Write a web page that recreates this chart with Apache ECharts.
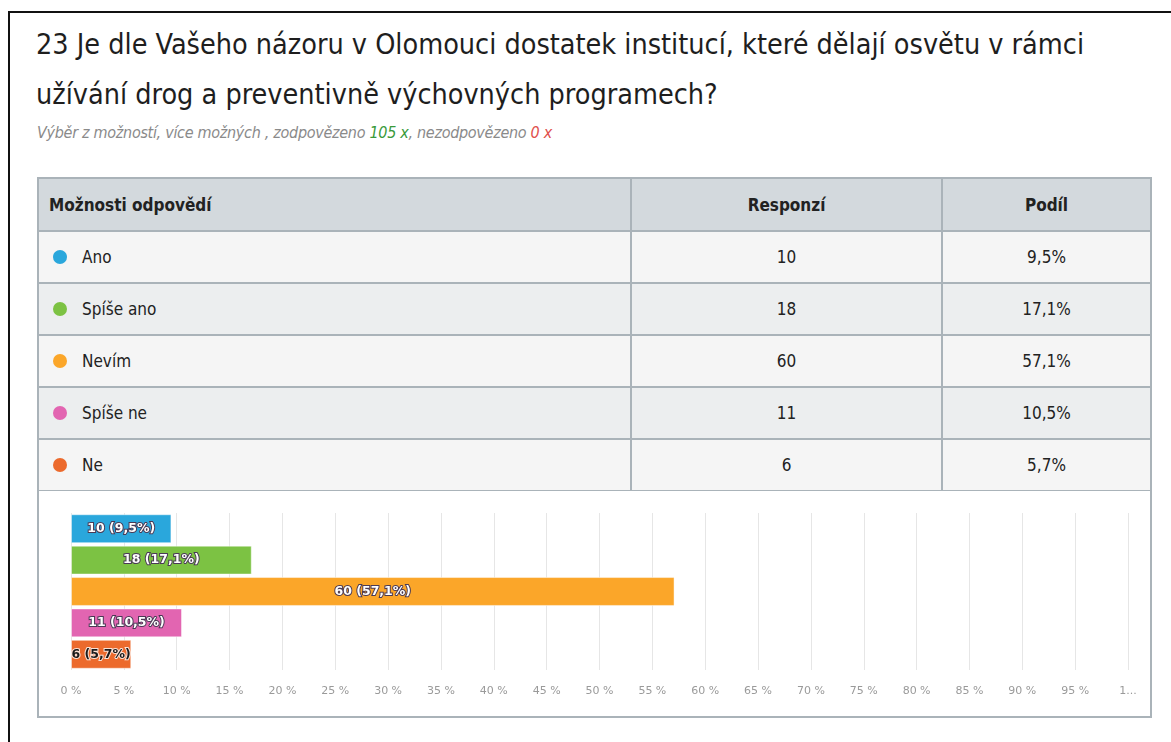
<!DOCTYPE html>
<html>
<head>
<meta charset="utf-8">
<script src="https://cdn.jsdelivr.net/npm/echarts@6/dist/echarts.min.js"></script>
<style>
  body { margin: 0; width: 1171px; height: 742px; background: #fff; position: relative; overflow: hidden;
         font-family: "Liberation Sans Narrow", "DejaVu Sans Condensed", "Noto Sans", sans-serif; color: #222; }
  .frame-left { position: absolute; left: 8px; top: 11px; width: 2px; height: 731px; background: #111; }
  .frame-top { position: absolute; left: 8px; top: 11px; width: 1163px; height: 2px; background: #111; }
  .title { position: absolute; left: 36px; top: 20px; font-size: 28.5px; line-height: 50px; white-space: nowrap; color: #1e1e1e; }
  .sub { position: absolute; left: 37px; top: 123px; font-size: 16px; font-style: italic; color: #8a8a8a; white-space: nowrap; letter-spacing: -0.3px; }
  .sub .ok { color: #3a9a3a; }
  .sub .no { color: #e0504c; }
  table { position: absolute; left: 37px; top: 177px; width: 1115px; border-collapse: collapse; font-size: 17px; }
  th, td { border: 2px solid #aab3b9; height: 50px; padding: 0; }
  th { background: #d3d9dd; font-weight: bold; height: 51px; }
  th.opt { text-align: left; padding-left: 10px; }
  td.opt { padding-left: 14px; }
  td.num { text-align: center; }
  tr.odd td { background: #f5f5f5; }
  tr.even td { background: #eceeef; }
  .dot { display: inline-block; width: 14px; height: 14px; border-radius: 50%; vertical-align: -1px; margin-right: 15px; }
  #chart { position: absolute; left: 37px; top: 491px; width: 1111px; height: 225px; border: 2px solid #aab3b9; border-top: none; background: #fff; }
</style>
</head>
<body>
<div class="frame-left"></div>
<div class="frame-top"></div>
<div class="title">23 Je dle Vašeho názoru v Olomouci dostatek institucí, které dělají osvětu v rámci<br>užívání drog a preventivně výchovných programech?</div>
<div class="sub">Výběr z možností, více možných , zodpovězeno <span class="ok">105 x</span>, nezodpovězeno <span class="no">0 x</span></div>
<table id="tbl"></table>
<div id="chart"></div>
<script>
// data
const answers = ['Ano', 'Spíše ano', 'Nevím', 'Spíše ne', 'Ne'];
const responses = [10, 18, 60, 11, 6];
const shares = [9.5, 17.1, 57.1, 10.5, 5.7];
const palette = ['#2aa7dc', '#7cc243', '#fba629', '#e265b1', '#ec6a2c'];

const fmtShare = v => v.toFixed(1).replace('.', ',') + '%';

// table
let html = '<tr><th class="opt">Možnosti odpovědí</th><th style="width:309px">Responzí</th><th style="width:207px">Podíl</th></tr>';
answers.forEach((a, i) => {
  html += '<tr class="' + (i % 2 ? 'even' : 'odd') + '">' +
    '<td class="opt"><span class="dot" style="background:' + palette[i] + '"></span>' + a + '</td>' +
    '<td class="num">' + responses[i] + '</td>' +
    '<td class="num">' + fmtShare(shares[i]) + '</td></tr>';
});
document.getElementById('tbl').innerHTML = html;

// bar chart
const chart = echarts.init(document.getElementById('chart'));
chart.setOption({
  animation: false,
  grid: { left: 32, right: 22, top: 22, bottom: 46 },
  xAxis: {
    type: 'value',
    min: 0,
    max: 100,
    interval: 5,
    axisLine: { show: false },
    axisTick: { show: false },
    splitLine: { lineStyle: { color: '#e6e6e6' } },
    axisLabel: {
      color: '#9a9a9a',
      fontSize: 11,
      fontFamily: 'DejaVu Sans',
      margin: 16,
      formatter: v => (v === 100 ? '1...' : v + ' %')
    }
  },
  yAxis: {
    type: 'category',
    inverse: true,
    data: answers,
    axisLine: { show: false },
    axisTick: { show: false },
    axisLabel: { show: false }
  },
  series: [{
    type: 'bar',
    barCategoryGap: '8%',
    data: shares.map((v, i) => ({
      value: v,
      itemStyle: { color: palette[i], borderColor: 'rgba(255,255,255,0.45)', borderWidth: 1 },
      label: i === shares.length - 1
        ? { color: '#1a1a1a', textBorderColor: 'rgba(255,255,255,0.8)', textBorderWidth: 2 }
        : {}
    })),
    label: {
      show: true,
      position: 'inside',
      fontFamily: 'DejaVu Sans',
      fontWeight: 'bold',
      fontSize: 12.5,
      color: '#fff',
      textBorderColor: '#4a3a55',
      textBorderWidth: 2,
      formatter: p => responses[p.dataIndex] + ' (' + fmtShare(shares[p.dataIndex]) + ')'
    }
  }]
});
</script>
</body>
</html>
